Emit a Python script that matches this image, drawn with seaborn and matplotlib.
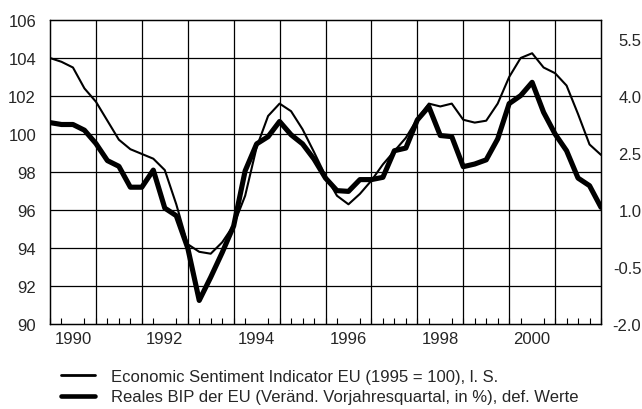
import numpy as np
import pandas as pd
import matplotlib
matplotlib.use("Agg")
import matplotlib.pyplot as plt
import seaborn as sns

# quarterly values, 1990 Q1 .. 2002 Q1 (49 points)
esi = [104.0, 103.8, 103.5, 102.4, 101.7, 100.7, 99.7, 99.2, 98.95, 98.7,
       98.1, 96.3, 94.2, 93.8, 93.7, 94.3, 95.2, 96.75, 99.3, 100.95,
       101.6, 101.2, 100.25, 99.05, 97.8, 96.75, 96.3, 96.85, 97.55, 98.4,
       99.1, 99.8, 100.8, 101.6, 101.45, 101.6, 100.75, 100.6, 100.7, 101.6,
       103.0, 104.0, 104.25, 103.5, 103.2, 102.55, 101.05, 99.45, 98.9]
gdp = [3.3, 3.25, 3.25, 3.1, 2.75, 2.3, 2.15, 1.6, 1.6, 2.05,
       1.05, 0.85, 0.0, -1.38, -0.77, -0.12, 0.58, 2.03, 2.74, 2.93,
       3.33, 2.98, 2.74, 2.34, 1.84, 1.51, 1.49, 1.8, 1.8, 1.86,
       2.56, 2.63, 3.37, 3.72, 2.96, 2.93, 2.14, 2.21, 2.32, 2.87,
       3.8, 4.01, 4.36, 3.57, 3.0, 2.56, 1.84, 1.64, 1.07]
year_labels = ["1990", "1992", "1994", "1996", "1998", "2000"]
label_esi = "Economic Sentiment Indicator EU (1995 = 100), l. S."
label_gdp = "Reales BIP der EU (Veränd. Vorjahresquartal, in %), def. Werte"

df = pd.DataFrame({"t": 1990 + np.arange(len(esi)) / 4, "esi": esi, "gdp": gdp})

sns.set_style("white")
plt.rcParams["font.family"] = ["Liberation Sans", "DejaVu Sans"]
fs = 12

fig = plt.figure(figsize=(6.42, 4.10), dpi=100)
ax = fig.add_axes([50 / 642, 1 - 325 / 410, 551 / 642, 304 / 410])
ax2 = ax.twinx()

ax.set_xlim(1990, 2002)
ax.set_ylim(90, 106)
ax2.set_ylim(-2, 6)

# grid
for yv in np.arange(92, 106, 2):
    ax.axhline(yv, color="black", lw=0.9, zorder=0)
for xv in range(1991, 2002):
    ax.axvline(xv, color="black", lw=0.9, zorder=0)

sns.lineplot(data=df, x="t", y="esi", ax=ax, color="black", lw=1.5, label=label_esi, legend=False)
sns.lineplot(data=df, x="t", y="gdp", ax=ax2, color="black", lw=3.7, label=label_gdp, legend=False)

ax.set_xlabel("")
ax.set_ylabel("")
ax2.set_ylabel("")

ax.set_yticks(np.arange(90, 107, 2))
ax.tick_params(axis="y", length=0, pad=10, labelsize=fs)
ax.set_xticks([int(y) + 0.5 for y in year_labels], year_labels)
ax.set_xticks(df["t"], minor=True)
ax.tick_params(axis="x", which="both", bottom=True)
ax.tick_params(axis="x", which="major", length=0, pad=5, labelsize=fs)
ax.tick_params(axis="x", which="minor", direction="in", length=4, width=0.8, color="black")

r_ticks = [-2.0, -0.5, 1.0, 2.5, 4.0, 5.5]
ax2.set_yticks(r_ticks, [f"{v:.1f}" for v in r_ticks])
ax2.tick_params(axis="y", length=0, pad=29, labelsize=fs)
for lab in ax2.get_yticklabels():
    lab.set_ha("right")

for a in (ax, ax2):
    for s in a.spines.values():
        s.set_color("black")
        s.set_linewidth(0.9)

h1 = ax.get_lines()[-1]
h2 = ax2.get_lines()[-1]
leg = fig.legend([h1, h2], [label_esi, label_gdp], loc="upper left",
                 bbox_to_anchor=(61 / 642, 1 - 370 / 410), frameon=False,
                 fontsize=fs, borderpad=0, borderaxespad=0, handlelength=2.04,
                 handletextpad=0.94, labelspacing=0.32)
leg.get_lines()[0].set_linewidth(2.0)
leg.get_lines()[1].set_linewidth(3.3)

fig.savefig("out.png", dpi=100)
